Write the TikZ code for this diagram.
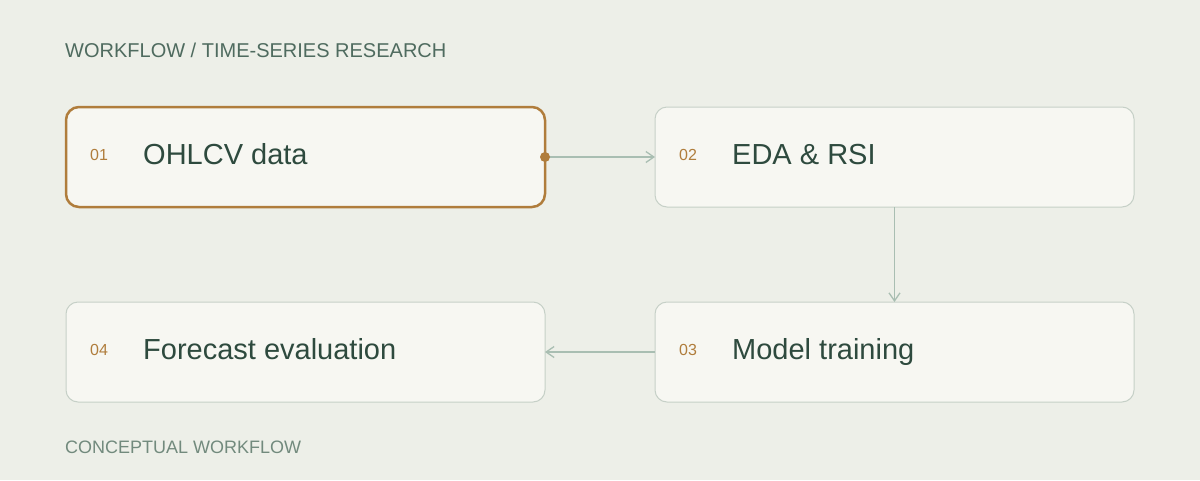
\documentclass[tikz,border=0pt]{standalone}
\usepackage{fontspec}
\setmainfont{Liberation Sans}
\usepackage{tikz}
\usetikzlibrary{arrows.meta,positioning}
\definecolor{PageBg}{HTML}{EDEFE8}
\definecolor{CardFill}{HTML}{F7F7F2}
\definecolor{CardLine}{HTML}{C6D0C7}
\definecolor{AccentOchre}{HTML}{B07D3C}
\definecolor{InkGreen}{HTML}{2E4A3E}
\definecolor{CaptionGreen}{HTML}{4F6B5F}
\definecolor{FootGreen}{HTML}{728A7D}
\definecolor{FlowLine}{HTML}{A9BEB2}

\begin{document}
\begin{tikzpicture}[x=1pt,y=-1pt,
  card/.style={draw=CardLine,line width=1pt,rounded corners=12pt,fill=CardFill,
    minimum width=479pt,minimum height=100pt,inner sep=0pt,outer sep=0pt},
  stepnum/.style={anchor=base west,inner sep=0pt,text=AccentOchre,font=\fontsize{16}{19}\selectfont},
  steptext/.style={anchor=base west,inner sep=0pt,text=InkGreen,font=\fontsize{29}{34}\selectfont},
  flow/.style={draw=FlowLine,line width=1.3pt,-{Straight Barb[length=8pt,width=11pt]}}]
  \fill[PageBg] (0,0) rectangle (1200,480);
  \node[anchor=base west,inner sep=0pt,text=CaptionGreen,font=\fontsize{20}{24}\selectfont] (title) at (65,57) {WORKFLOW / TIME-SERIES RESEARCH};
  \node[card,draw=AccentOchre,line width=2.5pt,rounded corners=13pt] (b1) at (305.5,157) {};
  \node[card,right=110pt of b1] (b2) {};
  \node[card,below=95pt of b2] (b3) {};
  \node[card,left=110pt of b3] (b4) {};
  \foreach \b/\n/\t in {b1/01/OHLCV data,b2/02/EDA \& RSI,b3/03/Model training,b4/04/Forecast evaluation}{
    \node[stepnum] (num-\b) at ([xshift=24pt,yshift=-3.5pt]\b.west) {\n};
    \node[steptext] (text-\b) at ([xshift=77pt,yshift=-7pt]\b.west) {\t};
  }
  \draw[flow] (b1.east) -- (b2.west);
  \fill[AccentOchre] (b1.east) circle (5pt);
  \draw[flow] (b2.south) -- (b3.north);
  \draw[flow] (b3.west) -- (b4.east);
  \node[anchor=base west,inner sep=0pt,text=FootGreen,font=\fontsize{18}{22}\selectfont] (foot) at (65,453) {CONCEPTUAL WORKFLOW};
\end{tikzpicture}
\end{document}
